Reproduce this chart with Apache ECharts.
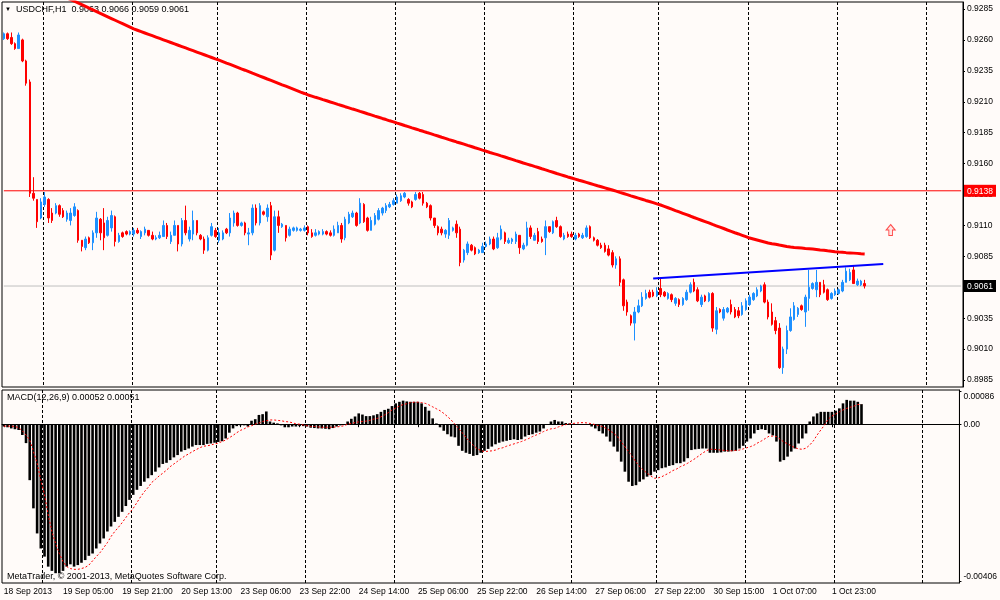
<!DOCTYPE html>
<html><head><meta charset="utf-8">
<script src="https://cdn.jsdelivr.net/npm/echarts@6/dist/echarts.min.js"></script>
<style>html,body{margin:0;padding:0;background:#fffbf9;}#c{width:1000px;height:600px;}</style>
</head><body><div id="c"></div>
<script>
// ---- time axis (hourly bars, weekend gap) ----
const sessions = [['18 Sep',13,23],['19 Sep',0,23],['20 Sep',0,22],['23 Sep',0,23],['24 Sep',0,23],['25 Sep',0,23],['26 Sep',0,23],['27 Sep',0,22],['30 Sep',0,23],['1 Oct',0,23],['2 Oct',0,23],['3 Oct',0,9]];
const firstLabel = '18 Sep 2013';
const symbolName = 'USDCHF,H1';
// ---- OHLC in pips (price*10000) ----
const opens = [9261,9265,9262,9257,9253,9260,9243,9226,9136,9131,
9116,9127,9131,9120,9120,9126,9122,9115,9114,9118,
9122,9098,9092,9100,9096,9104,9115,9112,9102,9108,
9117,9097,9104,9105,9103,9103,9106,9101,9104,9106,
9102,9099,9100,9101,9110,9097,9102,9110,9095,9114,
9099,9103,9114,9102,9099,9090,9102,9106,9098,9099,
9107,9104,9112,9120,9110,9112,9103,9104,9124,9112,
9121,9117,9126,9090,9117,9109,9110,9102,9106,9106,
9106,9106,9109,9104,9102,9103,9103,9105,9104,9102,
9104,9110,9100,9112,9117,9120,9112,9127,9116,9106,
9111,9115,9120,9122,9125,9127,9128,9130,9133,9131,
9129,9131,9136,9135,9128,9126,9116,9109,9107,9103,
9102,9106,9111,9107,9082,9088,9094,9092,9088,9088,
9093,9095,9099,9092,9099,9104,9096,9097,9097,9102,
9091,9094,9108,9098,9105,9099,9100,9109,9104,9114,
9109,9099,9103,9103,9099,9103,9100,9101,9109,9100,
9098,9094,9094,9091,9088,9078,9083,9066,9048,9037,
9031,9040,9045,9051,9056,9056,9053,9059,9056,9051,
9054,9047,9050,9046,9050,9056,9064,9058,9046,9053,
9049,9055,9026,9042,9035,9040,9046,9042,9041,9038,
9042,9046,9050,9053,9057,9062,9048,9040,9033,9027,
8995,9010,9025,9034,9038,9045,9040,9051,9059,9058,
9064,9062,9058,9051,9054,9055,9057,9064,9066,9074,
9062,9062,9063];
const highs = [9266,9266,9266,9258,9266,9261,9244,9228,9149,9131,
9132,9137,9132,9124,9128,9127,9124,9122,9124,9128,
9123,9098,9101,9101,9106,9121,9116,9124,9117,9122,
9118,9104,9105,9106,9106,9108,9108,9106,9109,9106,
9105,9102,9105,9114,9112,9105,9114,9110,9116,9126,
9109,9122,9114,9103,9101,9102,9112,9108,9108,9106,
9108,9120,9122,9121,9113,9113,9108,9127,9127,9128,
9122,9127,9129,9122,9122,9112,9110,9109,9109,9109,
9108,9110,9110,9107,9107,9106,9107,9106,9106,9110,
9113,9112,9117,9121,9122,9121,9132,9128,9117,9117,
9120,9124,9125,9128,9129,9132,9135,9136,9137,9132,
9130,9137,9137,9137,9129,9127,9116,9110,9109,9107,
9116,9109,9114,9109,9091,9097,9095,9093,9091,9096,
9097,9101,9101,9104,9110,9105,9100,9100,9105,9102,
9096,9113,9110,9104,9108,9101,9114,9109,9114,9117,
9110,9104,9105,9105,9104,9104,9104,9110,9110,9101,
9099,9096,9096,9094,9090,9085,9085,9067,9050,9038,
9044,9050,9056,9058,9058,9058,9060,9067,9057,9056,
9055,9052,9051,9052,9058,9064,9067,9060,9054,9054,
9056,9056,9044,9043,9044,9044,9050,9044,9044,9048,
9051,9054,9056,9060,9062,9064,9050,9047,9036,9031,
9012,9029,9043,9048,9044,9046,9054,9074,9064,9074,
9064,9066,9059,9056,9059,9059,9066,9076,9075,9078,
9067,9066,9066];
const lows = [9260,9260,9256,9252,9253,9242,9223,9133,9130,9108,
9115,9125,9112,9112,9119,9117,9116,9113,9110,9117,
9096,9089,9090,9095,9090,9100,9098,9090,9101,9105,
9093,9096,9100,9102,9102,9101,9103,9099,9102,9101,
9098,9098,9099,9101,9099,9095,9102,9089,9093,9102,
9097,9098,9102,9098,9087,9089,9101,9100,9096,9098,
9103,9101,9109,9109,9109,9102,9094,9102,9110,9110,
9118,9113,9082,9089,9104,9108,9097,9101,9105,9105,
9105,9105,9102,9100,9101,9102,9102,9102,9101,9101,
9104,9096,9098,9111,9116,9109,9111,9112,9105,9106,
9110,9114,9118,9120,9124,9126,9128,9129,9132,9126,
9124,9130,9131,9126,9124,9114,9108,9102,9102,9100,
9099,9105,9100,9077,9080,9086,9089,9086,9087,9088,
9092,9094,9090,9091,9098,9095,9095,9095,9095,9087,
9090,9093,9099,9098,9095,9096,9086,9104,9103,9108,
9100,9098,9100,9100,9098,9100,9099,9100,9099,9097,
9093,9091,9088,9085,9076,9075,9061,9041,9037,9029,
9017,9039,9044,9050,9051,9052,9052,9052,9052,9050,
9048,9045,9044,9045,9049,9055,9056,9048,9044,9048,
9048,9024,9022,9039,9033,9039,9038,9035,9035,9037,
9041,9045,9049,9052,9056,9047,9034,9029,9022,8994,
8990,9006,9024,9033,9036,9041,9028,9041,9058,9052,
9052,9055,9049,9050,9053,9054,9056,9064,9065,9063,
9061,9061,9059];
const closes = [9265,9261,9257,9253,9264,9243,9225,9136,9132,9113,
9129,9133,9116,9114,9126,9119,9117,9120,9120,9125,
9098,9093,9099,9096,9104,9116,9104,9100,9114,9118,
9097,9102,9101,9103,9105,9106,9104,9105,9107,9102,
9099,9100,9102,9110,9101,9102,9110,9095,9114,9104,
9106,9114,9104,9099,9090,9100,9109,9101,9104,9104,
9104,9116,9120,9110,9112,9104,9104,9124,9112,9126,
9119,9124,9086,9117,9110,9111,9100,9107,9108,9108,
9107,9108,9104,9101,9104,9105,9105,9103,9102,9107,
9110,9099,9115,9119,9120,9110,9128,9113,9106,9114,
9118,9122,9124,9126,9127,9130,9133,9134,9136,9128,
9125,9135,9132,9128,9125,9116,9110,9104,9104,9106,
9114,9108,9104,9080,9090,9095,9090,9087,9090,9093,
9095,9099,9091,9100,9107,9097,9098,9099,9103,9092,
9094,9108,9101,9102,9097,9097,9109,9105,9113,9109,
9101,9102,9101,9101,9102,9101,9102,9108,9100,9098,
9094,9092,9089,9086,9078,9083,9064,9045,9040,9031,
9040,9045,9052,9055,9052,9053,9057,9054,9053,9055,
9050,9051,9046,9051,9056,9062,9057,9049,9052,9049,
9055,9027,9041,9040,9042,9043,9040,9036,9037,9045,
9049,9052,9055,9058,9061,9048,9036,9030,9025,8995,
9010,9025,9036,9045,9043,9042,9052,9060,9063,9064,
9054,9056,9050,9055,9057,9058,9064,9073,9072,9063,
9065,9065,9061];
// ---- moving average (price*100000) ----
const maValues = [93160,93147,93134,93121,93108,93095,93082,93069,93056,93043,93030,93017,93004,92991,92978,92965,92952,92939,92926,92913,
92899,92885,92871,92857,92843,92829,92815,92801,92787,92773,92759,92745,92731,92717,92703,92689,
92678,92667,92656,92645,92634,92623,92612,92601,92590,92579,92568,92557,92546,92535,92524,92513,92502,92491,92480,92469,92458,92447,92437,
92425,92413,92402,92390,92378,92366,92355,92343,92331,92320,92308,92296,92284,92273,92261,92249,92237,92226,92214,92202,92190,92178,92167,92155,
92146,92136,92127,92117,92108,92098,92089,92079,92070,92060,92051,92041,92032,92022,92013,92003,91994,91984,91975,91965,
91956,91946,91937,91927,91918,91908,91899,91889,91880,91870,91861,91851,91842,91832,91823,91813,91804,91794,91785,91775,
91766,91757,91747,91738,91728,91719,91709,91700,91690,91681,91672,91662,91653,91643,91634,91624,91615,91605,91596,91587,
91577,91568,91558,91549,91539,91530,91520,91511,91502,91492,91483,
91474,91465,91457,91448,91439,91430,91421,91413,91404,91395,91386,
91377,91367,91358,91349,91339,91330,91321,91312,91302,91293,91284,91274,91265,
91254,91243,91232,91220,91209,91198,91187,91176,91164,91153,91142,91131,91120,91108,91097,91086,91075,91063,
91052,91041,91031,91020,91009,90998,90990,90982,90974,90966,90958,
90952,90947,90941,90936,90930,90925,90922,90920,90917,90914,90912,90909,
90906,90902,90899,90895,90892,90888,90885,90883,90880,90878,90876,90874,90871,90869];
// ---- MACD histogram and signal (x 0.00001) ----
const macdValues = [-6,-8,-11,-13,-15,-28,-49,-145,-218,-283,
-322,-343,-369,-380,-386,-386,-380,-369,-363,-369,
-365,-359,-352,-341,-335,-322,-309,-296,-278,-265,
-253,-240,-227,-212,-196,-183,-170,-160,-149,-140,
-132,-123,-112,-103,-100,-93,-86,-80,-71,-67,
-63,-58,-54,-54,-54,-51,-50,-48,-46,-44,
-37,-22,-11,-5,-3,-3,-6,9,13,24,
26,33,7,4,2,-3,-8,-8,-6,-6,
-5,-5,-6,-9,-10,-11,-11,-12,-13,-10,
-6,-3,-1,7,14,20,28,25,21,21,
23,26,32,37,40,47,54,58,61,59,
58,58,58,54,45,35,15,2,-8,-17,
-26,-32,-34,-56,-69,-74,-77,-82,-80,-74,
-69,-64,-58,-52,-48,-45,-43,-41,-39,-41,
-39,-32,-28,-26,-22,-19,-11,-2,7,11,
7,7,3,2,1,-2,-2,0,-2,-6,
-11,-18,-24,-32,-45,-58,-71,-97,-123,-149,
-160,-158,-149,-143,-136,-132,-123,-119,-114,-112,
-108,-106,-101,-101,-97,-88,-67,-65,-64,-63,
-63,-74,-74,-74,-73,-71,-71,-70,-69,-63,
-56,-45,-37,-24,-15,-13,-15,-24,-29,-45,
-97,-93,-84,-71,-63,-50,-37,-24,7,20,
28,32,32,32,32,35,41,54,63,61,
61,58,52];
const signalValues = [-5,-5,-5,-6,-9,-17,-28,-41,-71,-101,
-145,-183,-235,-278,-309,-335,-356,-369,-374,-376,
-376,-374,-371,-365,-354,-343,-333,-320,-307,-291,
-278,-267,-255,-242,-229,-218,-203,-188,-175,-164,
-151,-143,-134,-127,-119,-110,-103,-96,-89,-82,
-77,-71,-66,-61,-57,-56,-54,-51,-49,-45,
-41,-35,-29,-22,-16,-12,-7,-4,0,3,
7,9,11,11,10,9,7,6,4,1,
0,-2,-4,-6,-6,-7,-8,-8,-8,-8,
-7,-6,-4,0,2,4,6,7,8,10,
13,15,19,24,30,37,42,47,51,53,
56,57,57,56,54,50,45,40,35,28,
20,11,0,-11,-22,-34,-46,-55,-63,-68,
-71,-70,-69,-67,-63,-61,-57,-54,-51,-48,
-45,-41,-37,-32,-28,-24,-19,-15,-12,-11,
-7,-4,-1,1,2,3,4,4,3,1,
-1,-4,-6,-11,-17,-24,-32,-46,-58,-71,
-84,-98,-110,-119,-127,-134,-140,-139,-136,-131,
-126,-120,-116,-110,-106,-101,-95,-89,-82,-75,
-69,-65,-65,-66,-67,-68,-69,-69,-68,-67,
-64,-61,-58,-54,-48,-43,-37,-31,-31,-32,
-39,-46,-51,-56,-61,-64,-65,-62,-54,-43,
-28,-15,-2,13,21,26,32,37,41,44,
47,51,51];
// ---- axis ticks, levels, drawings ----
const priceTicks = [0.9285,0.9260,0.9235,0.9210,0.9185,0.9160,0.9135,0.9110,0.9085,0.9060,0.9035,0.9010,0.8985];
const macdTicks = [0.00086, 0, -0.00406];
const macdTickLabels = ['0.00086', '0.00', '-0.00406'];
const levelLine = 0.9138;
const trendLine = [['27 Sep 21:00', 0.90671], ['2 Oct 12:00', 0.90788]];
const arrowPoints = [['2 Oct 14:00', 0.91063]];
const copyright = 'MetaTrader, \u00a9 2001-2013, MetaQuotes Software Corp.';

// ---- build ----
const cats = [];
sessions.forEach(([d, h0, h1]) => { for (let h = h0; h <= h1; h++) cats.push(d + ' ' + String(h).padStart(2, '0') + ':00'); });
const n = closes.length;
const candleData = opens.map((o, i) => [o / 1e4, closes[i] / 1e4, lows[i] / 1e4, highs[i] / 1e4]);
const maData = maValues.map(v => v / 1e5);
const macdData = macdValues.map(v => v / 1e5);
const sigData = signalValues.map(v => v / 1e5);
const last = n - 1;
const headerText = symbolName + '  ' + [opens[last], highs[last], lows[last], closes[last]].map(v => (v / 1e4).toFixed(4)).join(' ');
const macdText = 'MACD(12,26,9) ' + (macdData[last]).toFixed(5) + ' ' + (sigData[last]).toFixed(5);
const lastClose = closes[last] / 1e4;
const edgeCats = [cats[0], cats[cats.length - 1]];

const FONT = 'Liberation Sans';
const PMIN = 0.897935, PMAX = 0.929066;
const isMidnight = (i, v) => / 00:00$/.test(v);
const isLabel = (i) => i % 16 === 0 && i < n;
const gridLine = { show: true, interval: isMidnight, lineStyle: { color: '#000', type: [3, 2], width: 1 } };
const boxStyle = bg => ({ backgroundColor: bg, color: '#fff', padding: [2, 3, 1, 3], fontSize: 8.5, fontFamily: FONT });

const chart = echarts.init(document.getElementById('c'), null, { renderer: 'canvas' });
chart.setOption({
  animation: false,
  backgroundColor: '#fffbf9',
  textStyle: { fontFamily: FONT },
  grid: [
    { left: 2, top: 2, width: 961, height: 385, show: true, borderColor: '#000', borderWidth: 1 },
    { left: 2, top: 390, width: 961, height: 193, show: true, borderColor: '#000', borderWidth: 1 }
  ],
  xAxis: [
    { type: 'category', gridIndex: 0, data: cats, boundaryGap: true,
      axisLine: { show: false }, axisTick: { show: false }, axisLabel: { show: false }, splitLine: gridLine },
    { type: 'category', gridIndex: 1, data: cats, boundaryGap: true,
      axisLine: { show: true, lineStyle: { color: '#000', width: 1 } },
      axisTick: { show: true, interval: isLabel, alignWithLabel: true, length: 3, lineStyle: { color: '#000' } },
      axisLabel: { interval: isLabel, align: 'left', margin: 4, fontSize: 8.5, color: '#000', fontFamily: FONT,
        formatter: (v, i) => i === 0 ? firstLabel : v },
      splitLine: gridLine }
  ],
  yAxis: [
    { type: 'value', gridIndex: 0, position: 'right', min: PMIN, max: PMAX,
      splitLine: { show: false },
      axisLine: { show: true, lineStyle: { color: '#000' } },
      axisTick: { show: true, customValues: priceTicks, length: 2, lineStyle: { color: '#000' } },
      axisLabel: { customValues: priceTicks, margin: 4, fontSize: 8.5, color: '#000', fontFamily: FONT,
        formatter: v => v.toFixed(4) } },
    { type: 'value', gridIndex: 1, position: 'right', min: -0.004114, max: 0.000886,
      splitLine: { show: false },
      axisLine: { show: true, lineStyle: { color: '#000' } },
      axisTick: { show: true, customValues: macdTicks, length: 2, lineStyle: { color: '#000' } },
      axisLabel: { customValues: macdTicks, margin: 4, fontSize: 8.5, color: '#000', fontFamily: FONT,
        formatter: v => {
          const k = macdTicks.indexOf(v);
          const s = k >= 0 ? macdTickLabels[k] : String(v);
          return v > 0 ? '{t|' + s + '}' : (v < 0 ? '{b|' + s + '}' : s);
        },
        rich: { t: { padding: [12, 0, 0, 0], fontSize: 8.5, fontFamily: FONT, color: '#000' },
                b: { padding: [0, 0, 8, 0], fontSize: 8.5, fontFamily: FONT, color: '#000' } } } },
    { type: 'value', gridIndex: 0, position: 'right', min: PMIN, max: PMAX, z: 10,
      splitLine: { show: false }, axisLine: { show: false }, axisTick: { show: false },
      axisLabel: { customValues: [levelLine, lastClose], margin: 1,
        formatter: v => (v === levelLine ? '{r|' : '{k|') + v.toFixed(4) + '}',
        rich: { r: boxStyle('#ff0000'), k: boxStyle('#000000') } } }
  ],
  graphic: [
    { type: 'text', left: 5, top: 6, style: { text: '\u25BC', fontSize: 6, fill: '#000' } },
    { type: 'text', left: 16, top: 5, style: { text: headerText, fontSize: 9, fontFamily: FONT, fill: '#000' } },
    { type: 'text', left: 7, top: 393, style: { text: macdText, fontSize: 9, fontFamily: FONT, fill: '#000' } },
    { type: 'text', left: 7, top: 572, style: { text: copyright, fontSize: 9, fontFamily: FONT, fill: '#000' } }
  ],
  series: [
    { type: 'line', xAxisIndex: 0, yAxisIndex: 0, z: 1, data: edgeCats.map(c => [c, lastClose]),
      showSymbol: false, symbol: 'none', silent: true, lineStyle: { color: '#c0c0c0', width: 1 } },
    { type: 'line', xAxisIndex: 0, yAxisIndex: 0, z: 1, data: edgeCats.map(c => [c, levelLine]),
      showSymbol: false, symbol: 'none', silent: true, lineStyle: { color: '#ff0000', width: 1 } },
    { type: 'candlestick', xAxisIndex: 0, yAxisIndex: 0, data: candleData, barWidth: 2, z: 2,
      itemStyle: { color: '#1e90ff', color0: '#ff0000', borderColor: '#1e90ff', borderColor0: '#ff0000', borderWidth: 1 } },
    { type: 'line', xAxisIndex: 0, yAxisIndex: 0, data: maData, showSymbol: false, symbol: 'none', clip: true, z: 3,
      lineStyle: { color: '#ff0000', width: 3 } },
    { type: 'line', xAxisIndex: 0, yAxisIndex: 0, data: trendLine, showSymbol: false, symbol: 'none', z: 3,
      lineStyle: { color: '#0000ff', width: 2 } },
    { type: 'scatter', xAxisIndex: 0, yAxisIndex: 0, data: arrowPoints, z: 4,
      symbol: 'path://M5,0 L10,5 L7,5 L7,10 L3,10 L3,5 L0,5 Z', symbolSize: [9, 11],
      itemStyle: { color: 'rgba(255,200,200,0.5)', borderColor: '#ff2020', borderWidth: 1 } },
    { type: 'bar', xAxisIndex: 1, yAxisIndex: 1, data: macdData, barWidth: 2.6,
      itemStyle: { color: '#000' } },
    { type: 'line', xAxisIndex: 1, yAxisIndex: 1, data: sigData, showSymbol: false, symbol: 'none', z: 3,
      lineStyle: { color: '#ff0000', width: 1, type: [2, 2] } }
  ]
});
</script>
</body></html>
